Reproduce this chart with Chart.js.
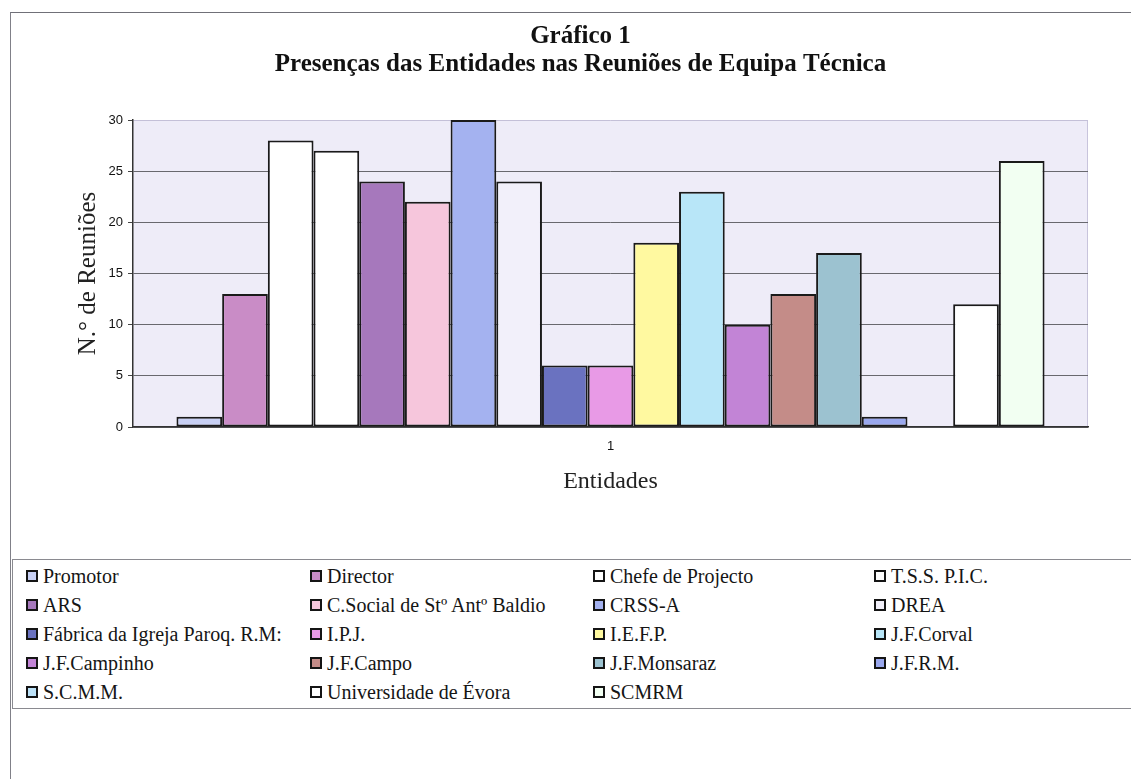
<!DOCTYPE html>
<html>
<head>
<meta charset="utf-8">
<script src="https://cdn.jsdelivr.net/npm/chart.js@4"></script>
<style>
  html, body { margin: 0; padding: 0; background: #fff; }
  body { width: 1131px; height: 779px; position: relative; overflow: hidden; }
  #frame { position: absolute; left: 10px; top: 12px; width: 1200px; height: 800px;
           border-top: 1px solid #707078; border-left: 1px solid #808088; }
  #wrap { position: absolute; left: 0; top: 0; width: 1131px; height: 779px; }
  #legend { position: absolute; left: 12px; top: 559px; width: 1200px; height: 150px;
            border: 1px solid #8a8a90; box-sizing: border-box; background: #fff;
            font-family: "Liberation Serif", "Times New Roman", serif; font-size: 20px; color: #151515; }
  .item { position: absolute; white-space: nowrap; line-height: 20px; height: 20px; }
  .sw { position: absolute; left: 0; top: 4px; width: 8px; height: 8px; border: 2px solid #151515; }
  .tx { position: absolute; left: 17px; top: 0; }
</style>
</head>
<body>
<div id="frame"></div>
<div id="wrap"><canvas id="c" width="1131" height="779"></canvas></div>
<div id="legend"></div>
<script>
// ---- data ----
const categories = ['1'];
const entities = ['Promotor', 'Director', 'Chefe de Projecto', 'T.S.S. P.I.C.', 'ARS',
  'C.Social de Stº Antº Baldio', 'CRSS-A', 'DREA', 'Fábrica da Igreja Paroq. R.M:', 'I.P.J.',
  'I.E.F.P.', 'J.F.Corval', 'J.F.Campinho', 'J.F.Campo', 'J.F.Monsaraz', 'J.F.R.M.',
  'S.C.M.M.', 'Universidade de Évora', 'SCMRM'];
const meetings = [1, 13, 28, 27, 24, 22, 30, 24, 6, 6, 18, 23, 10, 13, 17, 1, 0, 12, 26];
const yTicks = [0, 5, 10, 15, 20, 25, 30];
const titleLines = ['Gráfico 1', 'Presenças das Entidades nas Reuniões de Equipa Técnica'];

// ---- styles ----
const barColors = ['#c8d0f4', '#c98cc6', '#ffffff', '#ffffff', '#a678bc', '#f6c6dc', '#a4b2f0',
  '#f2f0fa', '#6a72c0', '#e89ae6', '#fff9a0', '#b8e6f8', '#c284d6', '#c48c88', '#9cc2d0',
  '#9aa8ee', '#bce2f8', '#ffffff', '#f2fff2'];

const serif = '"Liberation Serif", "Times New Roman", serif';
const sans = '"Liberation Sans", Arial, sans-serif';

const datasets = entities.map((name, i) => ({
  label: name,
  data: [meetings[i]],
  backgroundColor: barColors[i],
  borderColor: '#1a1a1a',
  borderWidth: 2,
  borderSkipped: false,
  barPercentage: 1.0,
  categoryPercentage: 0.909
}));

const plotBg = {
  id: 'plotBg',
  beforeDraw(chart) {
    const { ctx, chartArea: a } = chart;
    ctx.save();
    ctx.fillStyle = '#eeecf8';
    ctx.fillRect(a.left, a.top, a.right - a.left, a.bottom - a.top);
    ctx.strokeStyle = '#c8c4dc';
    ctx.lineWidth = 1;
    ctx.beginPath();
    ctx.moveTo(a.right - 0.5, a.top);
    ctx.lineTo(a.right - 0.5, a.bottom);
    ctx.stroke();
    ctx.restore();
  }
};

// title drawn above the plot, centred slightly left of the plot centre
const titlePlugin = {
  id: 'twoLineTitle',
  afterDraw(chart) {
    const { ctx, chartArea: a } = chart;
    const cx = (a.left + a.right) / 2 - 30;
    ctx.save();
    ctx.fillStyle = '#111';
    ctx.font = 'bold 25px ' + serif;
    ctx.textAlign = 'center';
    ctx.textBaseline = 'middle';
    titleLines.forEach((t, i) => ctx.fillText(t, cx, 37 + i * 28));
    ctx.restore();
  }
};

const chart = new Chart(document.getElementById('c'), {
  type: 'bar',
  data: { labels: categories, datasets },
  plugins: [plotBg, titlePlugin],
  options: {
    responsive: false,
    animation: false,
    layout: { padding: { left: 10, top: 120, right: 43, bottom: 277 } },
    plugins: {
      legend: { display: false },
      tooltip: { enabled: false },
      title: { display: false }
    },
    scales: {
      x: {
        afterFit(scale) { scale.height = 75; },
        grid: { display: false, drawTicks: false },
        border: { display: true, color: '#333', width: 1.5 },
        ticks: { color: '#111', font: { family: sans, size: 13 }, padding: 12 },
        title: {
          display: true, text: 'Entidades', color: '#222',
          font: { family: serif, size: 24, lineHeight: 1.2 },
          padding: { top: 0, bottom: 6 }
        }
      },
      y: {
        min: 0, max: 30,
        afterFit(scale) { scale.width = 123; },
        afterBuildTicks(scale) { scale.ticks = yTicks.map(v => ({ value: v })); },
        grid: {
          color: ctx => (ctx.tick && ctx.tick.value === 30) ? '#c4c0d8' : '#68686e',
          lineWidth: 1,
          drawTicks: true,
          tickLength: 5,
          tickColor: '#444'
        },
        border: { display: true, color: '#333', width: 1.5 },
        ticks: { color: '#111', font: { family: sans, size: 13 }, padding: 5 },
        title: {
          display: true, text: 'N.° de Reuniões', color: '#222',
          font: { family: serif, size: 25, lineHeight: 1.2 },
          padding: { top: 63, bottom: 0 }
        }
      }
    }
  }
});

// ---- legend (built from the chart's datasets) ----
const legendCols = [13, 297, 580, 861];
const legendRows = [6, 35, 64, 93, 122];
const legendEl = document.getElementById('legend');
chart.data.datasets.forEach((ds, i) => {
  const r = Math.floor(i / 4), c = i % 4;
  const item = document.createElement('div');
  item.className = 'item';
  item.style.left = legendCols[c] + 'px';
  item.style.top = legendRows[r] + 'px';
  const sw = document.createElement('span');
  sw.className = 'sw';
  sw.style.background = ds.backgroundColor;
  const tx = document.createElement('span');
  tx.className = 'tx';
  tx.textContent = ds.label;
  item.appendChild(sw);
  item.appendChild(tx);
  legendEl.appendChild(item);
});
</script>
</body>
</html>
